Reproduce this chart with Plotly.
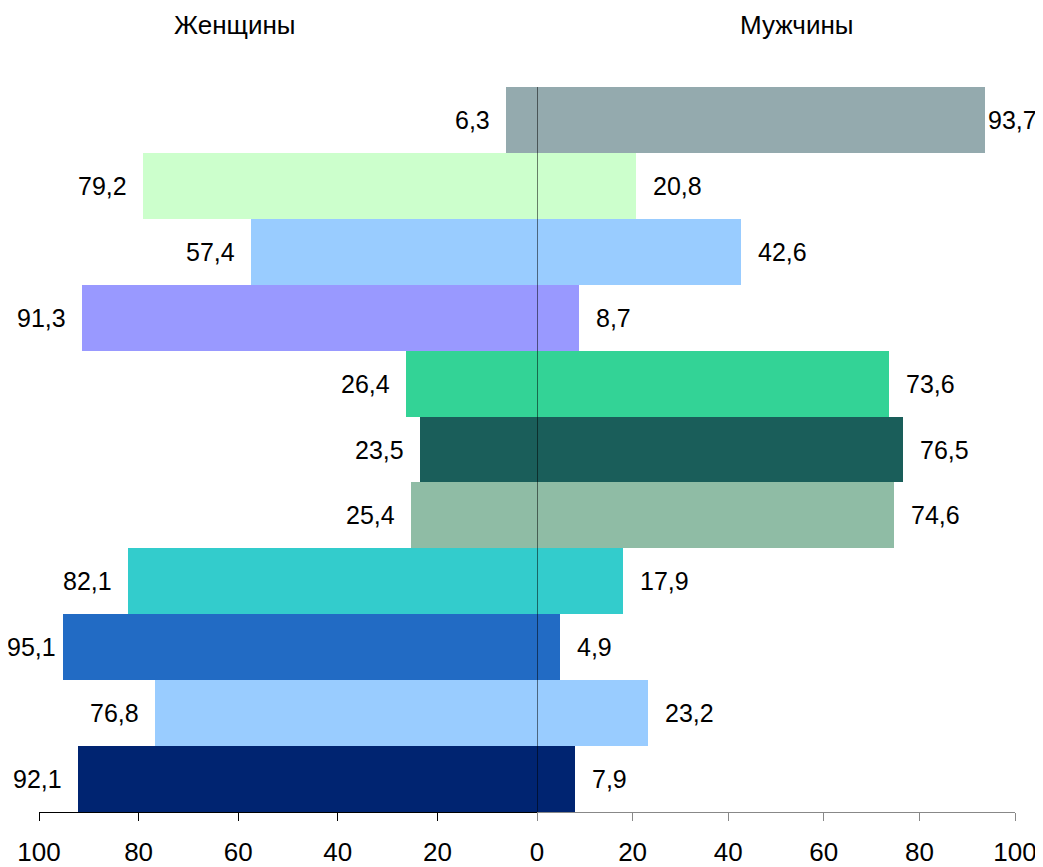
import plotly.graph_objects as go

# Data (top to bottom)
women = [6.3, 79.2, 57.4, 91.3, 26.4, 23.5, 25.4, 82.1, 95.1, 76.8, 92.1]
men = [93.7, 20.8, 42.6, 8.7, 73.6, 76.5, 74.6, 17.9, 4.9, 23.2, 7.9]
colors = ["#94AAAE", "#CCFFCC", "#99CCFF", "#9999FF", "#33D396", "#1A5E5A",
          "#8FBCA5", "#33CCCC", "#226BC4", "#99CCFF", "#002471"]
titles = ["Женщины", "Мужчины"]
left_ticks = [100, 80, 60, 40, 20, 0]
right_ticks = [20, 40, 60, 80, 100]

rows = list(range(len(women)))
FONT = "Liberation Sans, Arial, sans-serif"

def fmt(v):
    return f"{v:.1f}".replace(".", ",")

fig = go.Figure()
fig.add_trace(go.Bar(y=rows, x=women, orientation="h", marker=dict(color=colors, line=dict(width=0)),
                     xaxis="x", yaxis="y", width=1, hoverinfo="skip", showlegend=False))
fig.add_trace(go.Bar(y=rows, x=men, orientation="h", marker=dict(color=colors, line=dict(width=0)),
                     xaxis="x2", yaxis="y", width=1, hoverinfo="skip", showlegend=False))

ann = []
for r, v in zip(rows, women):
    ann.append(dict(x=v, y=r, xref="x", yref="y", text=fmt(v), showarrow=False,
                    xanchor="right", xshift=(-5 if v > 93 else -14),
                    font=dict(size=25, color="black", family=FONT)))
for r, v in zip(rows, men):
    ann.append(dict(x=v, y=r, xref="x2", yref="y", text=fmt(v), showarrow=False,
                    xanchor="left", xshift=(1 if v > 90 else 15),
                    font=dict(size=25, color="black", family=FONT)))
ann.append(dict(x=0.1998, y=1.0855, xref="paper", yref="paper", text=titles[0], showarrow=False,
                xanchor="center", yanchor="middle", font=dict(size=26, color="black", family=FONT)))
ann.append(dict(x=0.7766, y=1.0855, xref="paper", yref="paper", text=titles[1], showarrow=False,
                xanchor="center", yanchor="middle", font=dict(size=26, color="black", family=FONT)))

split = (537 - 39) / 976
fig.update_layout(
    width=1035, height=859,
    margin=dict(l=31, r=28, t=79, b=55, autoexpand=False),
    paper_bgcolor="white", plot_bgcolor="white",
    bargap=0,
    font=dict(family=FONT, size=26, color="black"),
    annotations=ann,
    xaxis=dict(domain=[0, split], range=[100, 0], tickvals=left_ticks,
               ticks="outside", ticklen=8, tickcolor="black", tickwidth=1,
               showline=True, linecolor="black", linewidth=1, showgrid=False, zeroline=False,
               ticklabelstandoff=9, tickfont=dict(size=26, family=FONT), anchor="y",
               automargin=False),
    xaxis2=dict(domain=[split, 1], range=[0, 100], tickvals=[0] + right_ticks,
                ticktext=[""] + [str(t) for t in right_ticks],
                ticks="outside", ticklen=8, tickcolor="#888888", tickwidth=1,
                showline=True, linecolor="#888888", linewidth=1, showgrid=False, zeroline=False,
                ticklabelstandoff=9, tickfont=dict(size=26, family=FONT), anchor="y",
                automargin=False),
    yaxis=dict(range=[len(rows) - 0.5, -0.5], showticklabels=False, showgrid=False,
               zeroline=False, showline=False, ticks="", automargin=False),
    shapes=[dict(type="line", xref="x2", yref="paper", x0=0, x1=0, y0=0, y1=1,
                 line=dict(color="black", width=1), layer="above")],
)

fig.write_html("out.html")
